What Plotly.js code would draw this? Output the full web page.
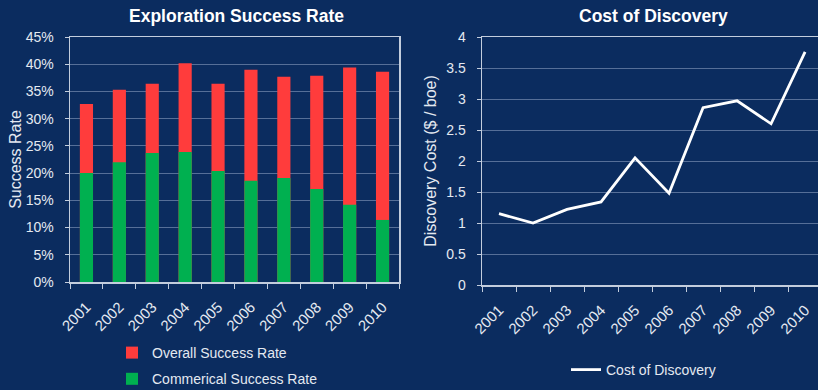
<!DOCTYPE html>
<html>
<head>
<meta charset="utf-8">
<script src="https://cdn.plot.ly/plotly-3.0.1.min.js"></script>
<style>html,body{margin:0;padding:0;background:#0b2c5f;}#chart{width:818px;height:390px;}</style>
</head>
<body>
<div id="chart"></div>
<script>
var years = ['2001','2002','2003','2004','2005','2006','2007','2008','2009','2010'];
var overallSuccess = [32.7, 35.3, 36.4, 40.2, 36.4, 39.0, 37.7, 37.9, 39.4, 38.6];
var commercialSuccess = [20.0, 22.0, 23.7, 23.9, 20.4, 18.6, 19.1, 17.1, 14.2, 11.4];
var discoveryCost = [1.15, 1.0, 1.22, 1.34, 2.05, 1.48, 2.86, 2.97, 2.6, 3.76];

var W = 818, H = 390;
var fontFam = 'Liberation Sans, Arial, sans-serif';
var txt = '#e4e9f1';
var axisLine = '#c3cddd';
var grid = 'rgba(150,168,198,0.55)';
var bg = '#0b2c5f';

var traces = [
  {type:'bar', x: years, y: overallSuccess, name:'Overall Success Rate',
   marker:{color:'#ff3c3c'}, width:0.4, opacity:1, xaxis:'x', yaxis:'y',
   legend:'legend', legendgroup:'a'},
  {type:'bar', x: years, y: commercialSuccess, name:'Commerical Success Rate',
   marker:{color:'#00b050'}, width:0.4, opacity:1, xaxis:'x', yaxis:'y',
   legend:'legend', legendgroup:'b'},
  {type:'scatter', mode:'lines', x: years, y: discoveryCost, name:'Cost of Discovery',
   line:{color:'#ffffff', width:2.8}, xaxis:'x2', yaxis:'y2', legend:'legend2'}
];

function px(x){return x/W;}
function py(y){return (H-y)/H;}

var layout = {
  width: W, height: H,
  margin:{l:0,r:0,t:0,b:0, autoexpand:false},
  paper_bgcolor: bg, plot_bgcolor: bg,
  font:{family:fontFam, color:txt, size:14},
  barmode:'overlay',
  showlegend:true,
  xaxis:{domain:[px(70), px(399)], type:'category', range:[-0.5,9.5], automargin:false,
    tickson:'boundaries', ticks:'outside', ticklen:5, tickcolor:axisLine, ticklabelstandoff:9,
    tickangle:-45, showline:true, linecolor:axisLine, linewidth:1.5, mirror:true,
    showgrid:false, tickfont:{size:15, color:txt}},
  yaxis:{domain:[py(282), py(37)], range:[0,45], dtick:5, ticksuffix:'%', automargin:false,
    ticks:'outside', ticklen:4, tickcolor:axisLine, ticklabelstandoff:8,
    showline:true, linecolor:axisLine, linewidth:1.5, mirror:true,
    showgrid:true, gridcolor:grid, gridwidth:1, zeroline:false,
    tickfont:{size:14, color:txt},
    title:{text:'Success Rate', font:{size:16, color:txt}, standoff:0}},
  xaxis2:{domain:[px(482), 1], type:'category', range:[-0.5,9.38], anchor:'y2', automargin:false,
    tickson:'boundaries', ticks:'outside', ticklen:5, tickcolor:axisLine, ticklabelstandoff:9,
    tickangle:-45, showline:true, linecolor:axisLine, linewidth:1.5, mirror:true,
    showgrid:false, tickfont:{size:15, color:txt}},
  yaxis2:{domain:[py(285), py(37)], range:[0,4], dtick:0.5, anchor:'x2', automargin:false,
    ticks:'outside', ticklen:4, tickcolor:axisLine, ticklabelstandoff:8,
    showline:true, linecolor:axisLine, linewidth:1.5,
    showgrid:true, gridcolor:grid, gridwidth:1, zeroline:false,
    tickfont:{size:14, color:txt},
    title:{text:'Discovery Cost ($ / boe)', font:{size:16, color:txt}, standoff:5}},
  legend:{x:px(112), xanchor:'left', y:py(337), yanchor:'top',
    orientation:'v', traceorder:'grouped', tracegroupgap:5,
    bgcolor:'rgba(0,0,0,0)', font:{size:14, color:txt}},
  legend2:{x:px(566), xanchor:'left', y:py(354), yanchor:'top',
    bgcolor:'rgba(0,0,0,0)', font:{size:14, color:txt}},
  annotations:[
    {text:'<b>Exploration Success Rate</b>', xref:'paper', yref:'paper',
     x:px(237), y:py(16), xanchor:'center', yanchor:'middle', showarrow:false,
     font:{size:17.5, color:'#ffffff'}},
    {text:'<b>Cost of Discovery</b>', xref:'paper', yref:'paper',
     x:px(653), y:py(16), xanchor:'center', yanchor:'middle', showarrow:false,
     font:{size:17.5, color:'#ffffff'}}
  ]
};

Plotly.newPlot('chart', traces, layout, {displayModeBar:false, staticPlot:true});
</script>
</body>
</html>
